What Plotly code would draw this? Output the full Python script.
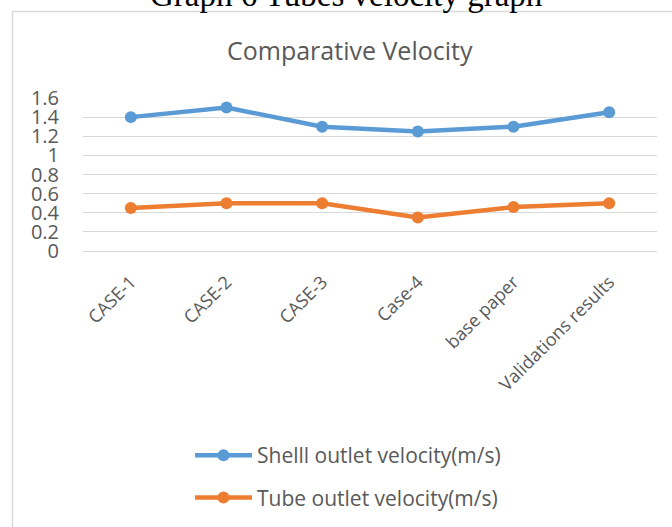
import plotly.graph_objects as go

# Categories and measured outlet velocities (m/s)
categories = ["CASE-1", "CASE-2", "CASE-3", "Case-4", "base paper", "Validations results"]
shell_velocity = [1.40, 1.50, 1.30, 1.25, 1.30, 1.45]
tube_velocity = [0.45, 0.50, 0.50, 0.35, 0.46, 0.50]
y_ticks = [0, 0.2, 0.4, 0.6, 0.8, 1, 1.2, 1.4, 1.6]
y_tick_text = ["0", "0.2", "0.4", "0.6", "0.8", "1", "1.2", "1.4", "1.6"]

FONT = "Open Sans"
GREY = "#595959"
BLUE = "#5B9BD5"
ORANGE = "#ED7D31"

W, H = 672, 527
L, R, T, B = 83, 15, 98, 275
plot_w = W - L - R
plot_h = H - T - B


def px_x(p):
    return (p - L) / plot_w


def px_y(p):
    return (H - B - p) / plot_h


fig = go.Figure()
fig.add_trace(go.Scatter(
    x=categories, y=shell_velocity, mode="lines+markers",
    name="Shelll outlet velocity(m/s)", legendgroup="a",
    line=dict(color=BLUE, width=4.5),
    marker=dict(color=BLUE, size=12),
))
fig.add_trace(go.Scatter(
    x=categories, y=tube_velocity, mode="lines+markers",
    name="Tube outlet velocity(m/s)", legendgroup="b",
    line=dict(color=ORANGE, width=4.5),
    marker=dict(color=ORANGE, size=12),
))

fig.update_layout(
    width=W, height=H,
    margin=dict(l=L, r=R, t=T, b=B, pad=0),
    paper_bgcolor="white", plot_bgcolor="white",
    font=dict(family=FONT, color=GREY),
    showlegend=True,
    legend=dict(
        x=px_x(190), y=px_y(435), xanchor="left", yanchor="top",
        font=dict(size=21, color=GREY, family=FONT),
        traceorder="grouped", tracegroupgap=12,
        itemwidth=57,
        bgcolor="rgba(0,0,0,0)",
    ),
    xaxis=dict(
        type="category", range=[-0.5, 5.5],
        showgrid=False, zeroline=False, showline=False, ticks="",
        tickangle=-45, tickfont=dict(size=18, color=GREY, family=FONT),
        ticklabelstandoff=16,
    ),
    yaxis=dict(
        range=[0, 1.6], tickvals=y_ticks, ticktext=y_tick_text,
        showgrid=True, gridcolor="#d9d9d9", gridwidth=1.3,
        zeroline=True, zerolinecolor="#d9d9d9", zerolinewidth=1.3,
        showline=False, ticks="",
        tickfont=dict(size=20, color=GREY, family=FONT),
        ticklabelstandoff=23,
    ),
    shapes=[dict(
        type="rect", xref="paper", yref="paper",
        x0=px_x(12.5), x1=px_x(700), y0=px_y(560), y1=px_y(11),
        line=dict(color="#d9d9d9", width=1.5), fillcolor="rgba(0,0,0,0)",
        layer="below",
    )],
    annotations=[
        dict(
            text="Comparative Velocity", xref="paper", yref="paper",
            x=px_x(350), y=px_y(50), xanchor="center", yanchor="middle",
            showarrow=False, font=dict(size=25, color=GREY, family=FONT),
        ),
        dict(
            text="Graph 6 Tubes velocity graph", xref="paper", yref="paper",
            x=px_x(346), y=px_y(14), xanchor="center", yanchor="bottom",
            showarrow=False,
            font=dict(size=33, color="#000000", family="Liberation Serif"),
        ),
    ],
)

fig.write_html("out.html")
